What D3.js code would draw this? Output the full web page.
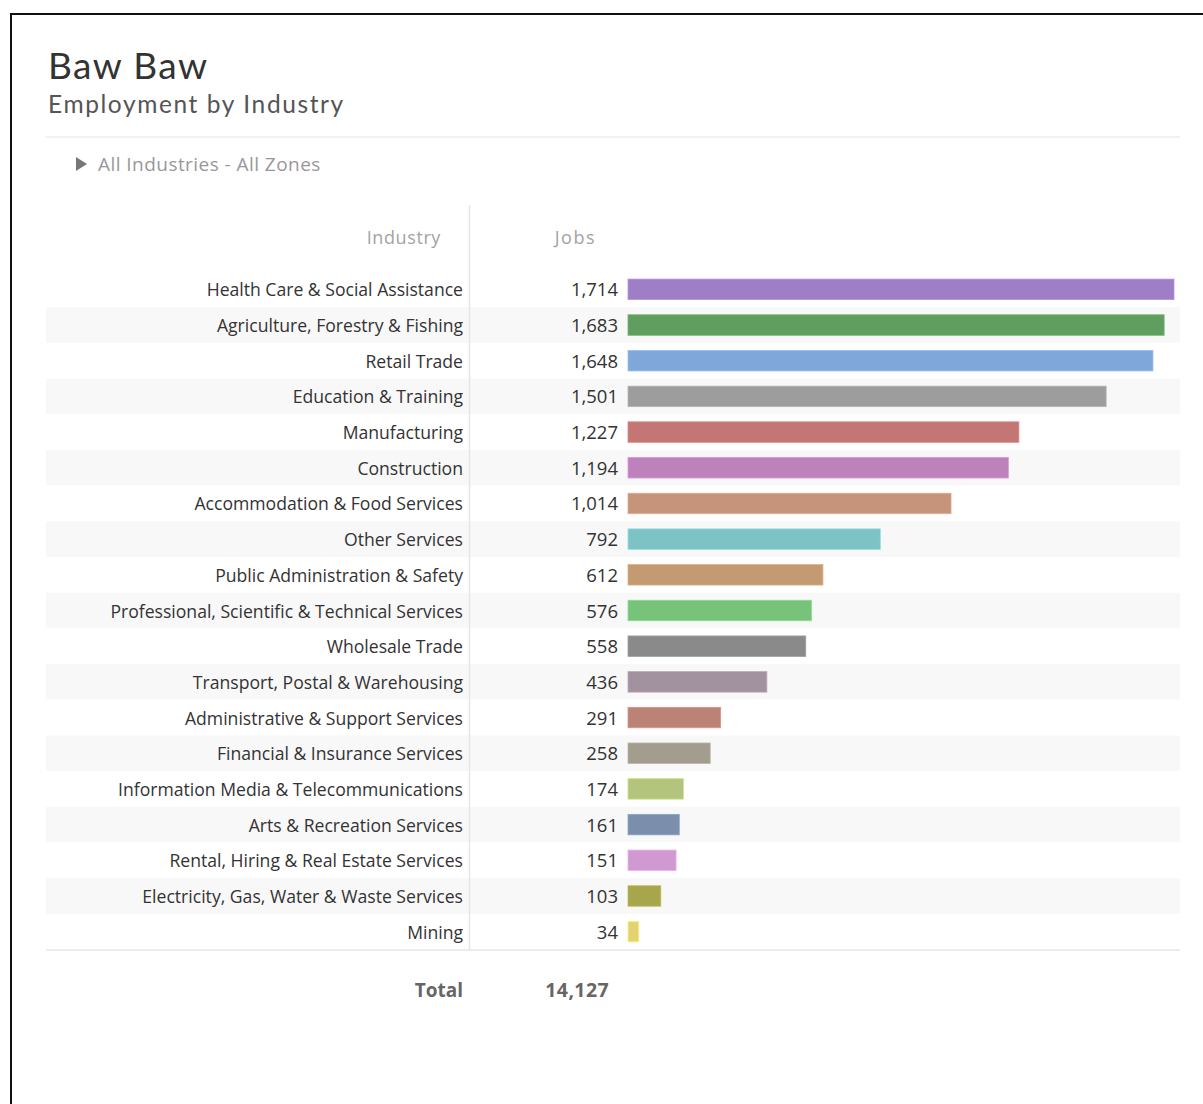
<!DOCTYPE html>
<html>
<head>
<meta charset="utf-8">
<script src="https://cdn.jsdelivr.net/npm/d3@7/dist/d3.min.js"></script>
<style>
  html, body { margin: 0; padding: 0; background: #fff; }
  svg { display: block; }
</style>
</head>
<body>
<script>
// Employment by industry, Baw Baw
const industries = [
  "Health Care & Social Assistance",
  "Agriculture, Forestry & Fishing",
  "Retail Trade",
  "Education & Training",
  "Manufacturing",
  "Construction",
  "Accommodation & Food Services",
  "Other Services",
  "Public Administration & Safety",
  "Professional, Scientific & Technical Services",
  "Wholesale Trade",
  "Transport, Postal & Warehousing",
  "Administrative & Support Services",
  "Financial & Insurance Services",
  "Information Media & Telecommunications",
  "Arts & Recreation Services",
  "Rental, Hiring & Real Estate Services",
  "Electricity, Gas, Water & Waste Services",
  "Mining"
];
const jobs = [1714, 1683, 1648, 1501, 1227, 1194, 1014, 792, 612, 576, 558, 436, 291, 258, 174, 161, 151, 103, 34];
const barColors = [
  "#9e7fc6", "#5f9e5f", "#7fa7d9", "#9d9d9d", "#c47674", "#bd82bc", "#c5947a",
  "#7dc2c5", "#c49a72", "#77c37a", "#8a8a8a", "#a2929f", "#bb8276", "#a29d8e",
  "#b3c57c", "#7b8fac", "#d199d1", "#a8a64d", "#e0d370"
];

const W = 1203, H = 1104;
const labelFont = "'Open Sans', 'Noto Sans', sans-serif";
const titleFont = "Lato, 'Open Sans', sans-serif";
const fmt = d3.format(",");

const svg = d3.select("body").append("svg").attr("width", W).attr("height", H);

// frame edges
svg.append("line").attr("x1", 10).attr("x2", W).attr("y1", 14).attr("y2", 14)
  .attr("stroke", "#111").attr("stroke-width", 2);
svg.append("line").attr("x1", 11).attr("x2", 11).attr("y1", 13).attr("y2", H)
  .attr("stroke", "#111").attr("stroke-width", 2);

// titles
svg.append("text").attr("x", 48).attr("y", 79).text("Baw Baw")
  .attr("font-family", titleFont).attr("font-size", 37)
  .attr("letter-spacing", 1.4).attr("fill", "#333");
svg.append("text").attr("x", 48).attr("y", 113).text("Employment by Industry")
  .attr("font-family", titleFont).attr("font-size", 24.5)
  .attr("letter-spacing", 1.6).attr("fill", "#555");
svg.append("line").attr("x1", 46).attr("x2", 1180).attr("y1", 137).attr("y2", 137)
  .attr("stroke", "#ececec").attr("stroke-width", 1.5);

// filter caption
svg.append("path").attr("d", "M76,157 L87,164 L76,171 Z").attr("fill", "#777");
svg.append("text").attr("x", 98).attr("y", 171).text("All Industries - All Zones")
  .attr("font-family", labelFont).attr("font-size", 19)
  .attr("letter-spacing", 0.45).attr("fill", "#9a979c");

// scales
const y = d3.scaleBand().domain(industries).range([271.5, 949.5]).padding(0);
const x = d3.scaleLinear().domain([0, d3.max(jobs)]).range([628, 1174]);
const barH = 20.5;

const rows = svg.append("g");
rows.selectAll("rect.band").data(industries).join("rect")
  .attr("class", "band")
  .attr("x", 46).attr("width", 1134)
  .attr("y", d => y(d)).attr("height", y.bandwidth())
  .attr("fill", (d, i) => i % 2 ? "#f8f8f8" : "#ffffff");

// column headers
svg.append("text").attr("x", 441).attr("y", 244).attr("text-anchor", "end")
  .text("Industry").attr("font-family", labelFont).attr("font-size", 18)
  .attr("letter-spacing", 0.6).attr("fill", "#a3a3a3");
svg.append("text").attr("x", 596).attr("y", 244).attr("text-anchor", "end")
  .text("Jobs").attr("font-family", labelFont).attr("font-size", 18)
  .attr("letter-spacing", 1.5).attr("fill", "#a3a3a3");

// separators
svg.append("line").attr("x1", 469.5).attr("x2", 469.5).attr("y1", 205).attr("y2", 950)
  .attr("stroke", "#e6e6e6").attr("stroke-width", 1.5);
svg.append("line").attr("x1", 46).attr("x2", 1180).attr("y1", 950).attr("y2", 950)
  .attr("stroke", "#e6e6e6").attr("stroke-width", 1.5);

// industry labels
rows.selectAll("text.lab").data(industries).join("text")
  .attr("class", "lab")
  .attr("x", 463).attr("y", d => y(d) + y.bandwidth() / 2 + 7)
  .attr("text-anchor", "end")
  .attr("font-family", labelFont).attr("font-size", 17.6).attr("fill", "#333")
  .text(d => d);

// job values
rows.selectAll("text.val").data(jobs).join("text")
  .attr("class", "val")
  .attr("x", 618).attr("y", (d, i) => y(industries[i]) + y.bandwidth() / 2 + 7)
  .attr("text-anchor", "end")
  .attr("font-family", labelFont).attr("font-size", 18.5).attr("fill", "#333")
  .text(d => fmt(d));

// bars
rows.selectAll("rect.bar").data(jobs).join("rect")
  .attr("class", "bar")
  .attr("x", x(0))
  .attr("y", (d, i) => y(industries[i]) + (y.bandwidth() - barH) / 2)
  .attr("width", d => x(d) - x(0))
  .attr("height", barH)
  .attr("fill", (d, i) => barColors[i])
  .attr("stroke", (d, i) => d3.color(barColors[i]).brighter(0.4))
  .attr("stroke-width", 0.8);

// total row
const total = d3.sum(jobs);
svg.append("text").attr("x", 463).attr("y", 997).attr("text-anchor", "end")
  .text("Total").attr("font-family", labelFont).attr("font-size", 19)
  .attr("font-weight", "bold").attr("fill", "#666");
svg.append("text").attr("x", 609).attr("y", 997).attr("text-anchor", "end")
  .text(fmt(total)).attr("font-family", labelFont).attr("font-size", 19.5)
  .attr("letter-spacing", 0.4)
  .attr("font-weight", "bold").attr("fill", "#666");
</script>
</body>
</html>
